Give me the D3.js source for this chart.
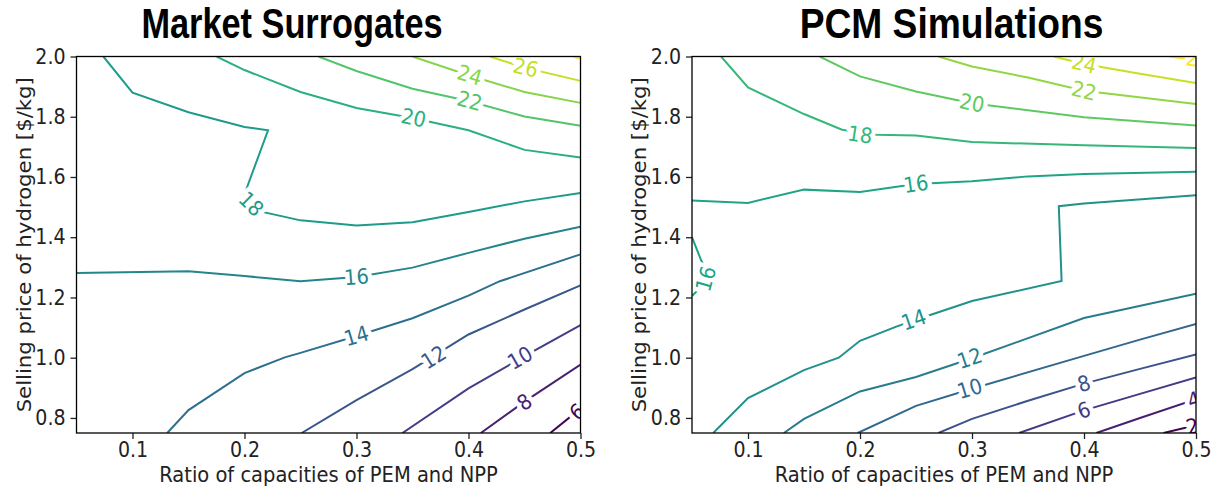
<!DOCTYPE html>
<html>
<head>
<meta charset="utf-8">
<script src="https://cdn.jsdelivr.net/npm/d3@7"></script>
<style>
  body { margin: 0; background: #fff; }
  svg { display: block; }
  .tick text { font-family: "DejaVu Sans", sans-serif; font-size: 19px; fill: #222; }
  .tick line { stroke: #222; stroke-width: 1.3; }
  .axis-label { font-family: "DejaVu Sans", sans-serif; font-size: 19.5px; fill: #222; }
  .title { font-family: "Liberation Sans", Arial, sans-serif; font-weight: bold; fill: #000; }
  .clabel { font-family: "DejaVu Sans", sans-serif; font-size: 19.5px; stroke: #fff; stroke-width: 9px; paint-order: stroke; stroke-linejoin: round; }
</style>
</head>
<body>
<div id="chart"></div>
<script>
/* global d3 */

// shared axes
const xDomain = [0.05, 0.5];
const yDomain = [0.75, 2.0];
const xTicks = [0.1, 0.2, 0.3, 0.4, 0.5];
const yTicks = [0.8, 1.0, 1.2, 1.4, 1.6, 1.8, 2.0];

// Market Surrogates: contour levels and traced polylines [level, [[x, y], ...]]
const surrogateLevels = [6, 8, 10, 12, 14, 16, 18, 20, 22, 24, 26, 28];
const surrogateLines = [
  [6,  [[0.473, 0.75], [0.50, 0.831]]],
  [8,  [[0.411, 0.75], [0.45, 0.854], [0.50, 0.977]]],
  [10, [[0.341, 0.75], [0.40, 0.898], [0.45, 1.005], [0.50, 1.108]]],
  [12, [[0.251, 0.75], [0.30, 0.859], [0.35, 0.962], [0.40, 1.077], [0.45, 1.16], [0.50, 1.240]]],
  [14, [[0.131, 0.75], [0.15, 0.826], [0.20, 0.949], [0.236, 1.001], [0.25, 1.016], [0.30, 1.072],
        [0.35, 1.131], [0.40, 1.206], [0.428, 1.254], [0.50, 1.343]]],
  [16, [[0.05, 1.281], [0.15, 1.287], [0.20, 1.271], [0.25, 1.254], [0.30, 1.268], [0.35, 1.299],
        [0.40, 1.348], [0.45, 1.395], [0.50, 1.435]]],
  [18, [[0.074, 2.0], [0.10, 1.880], [0.15, 1.815], [0.20, 1.766], [0.221, 1.755], [0.20, 1.543],
        [0.216, 1.484], [0.25, 1.456], [0.30, 1.439], [0.35, 1.450], [0.40, 1.484], [0.45, 1.519], [0.50, 1.547]]],
  [20, [[0.175, 2.0], [0.20, 1.955], [0.25, 1.882], [0.30, 1.829], [0.35, 1.796], [0.40, 1.755],
        [0.45, 1.690], [0.50, 1.665]]],
  [22, [[0.266, 2.0], [0.30, 1.952], [0.35, 1.893], [0.40, 1.852], [0.45, 1.801], [0.50, 1.770]]],
  [24, [[0.350, 2.0], [0.40, 1.938], [0.45, 1.882], [0.50, 1.846]]],
  [26, [[0.419, 2.0], [0.45, 1.963], [0.50, 1.919]]],
  [28, [[0.494, 2.0], [0.50, 1.992]]]
];
// [level, x, y, optional angle]
const surrogateLabels = [
  [6, 0.497, 0.82], [8, 0.45, 0.852], [10, 0.446, 0.999], [12, 0.369, 1.001], [14, 0.30, 1.072],
  [16, 0.30, 1.268], [18, 0.206, 1.51], [20, 0.351, 1.796], [22, 0.401, 1.852], [24, 0.401, 1.938],
  [26, 0.451, 1.963]
];

// PCM Simulations
const pcmLevels = [2, 4, 6, 8, 10, 12, 14, 16, 18, 20, 22, 24, 26];
const pcmLines = [
  [2,  [[0.471, 0.75], [0.50, 0.776]]],
  [4,  [[0.411, 0.75], [0.45, 0.80], [0.50, 0.862]]],
  [6,  [[0.342, 0.75], [0.40, 0.825], [0.45, 0.88], [0.50, 0.934]]],
  [8,  [[0.270, 0.75], [0.30, 0.797], [0.35, 0.857], [0.40, 0.914], [0.45, 0.963], [0.50, 1.011]]],
  [10, [[0.198, 0.75], [0.25, 0.84], [0.30, 0.897], [0.40, 1.006], [0.45, 1.06], [0.50, 1.112]]],
  [12, [[0.132, 0.75], [0.15, 0.797], [0.20, 0.888], [0.25, 0.936], [0.30, 0.998], [0.40, 1.132], [0.50, 1.212]]],
  [14, [[0.069, 0.75], [0.10, 0.866], [0.15, 0.959], [0.181, 1.0], [0.20, 1.056], [0.233, 1.104],
        [0.25, 1.126], [0.30, 1.188], [0.38, 1.255], [0.3775, 1.503], [0.40, 1.512], [0.50, 1.539]]],
  [16, [[0.05, 1.522], [0.10, 1.514], [0.15, 1.558], [0.20, 1.550], [0.25, 1.577], [0.30, 1.586],
        [0.35, 1.602], [0.40, 1.610], [0.50, 1.617]]],
  [16, [[0.05, 1.40], [0.058, 1.325], [0.066, 1.265], [0.05, 1.205]]],
  [18, [[0.076, 2.0], [0.10, 1.897], [0.15, 1.809], [0.184, 1.757], [0.215, 1.740], [0.25, 1.738],
        [0.30, 1.716], [0.40, 1.705], [0.50, 1.696]]],
  [20, [[0.164, 2.0], [0.20, 1.934], [0.25, 1.884], [0.30, 1.845], [0.40, 1.798], [0.50, 1.771]]],
  [22, [[0.270, 2.0], [0.30, 1.967], [0.35, 1.930], [0.40, 1.886], [0.50, 1.842]]],
  [24, [[0.373, 2.0], [0.40, 1.975], [0.45, 1.943], [0.50, 1.912]]],
  [26, [[0.476, 2.0], [0.50, 1.988]]]
];
const pcmLabels = [
  [2, 0.497, 0.772], [4, 0.498, 0.86], [6, 0.40, 0.825], [8, 0.40, 0.914], [10, 0.298, 0.897],
  [12, 0.298, 0.998], [14, 0.248, 1.126], [16, 0.25, 1.577], [16, 0.0625, 1.262, -74], [18, 0.20, 1.74],
  [20, 0.30, 1.845], [22, 0.40, 1.886], [24, 0.40, 1.975], [26, 0.502, 1.99]
];

const size = { width: 1211, height: 488 };
const plot = { top: 56.5, width: 504, height: 376.5 };
const stretch = 1.09;   // the reference text is a little taller than wide

const svg = d3.select("#chart").append("svg")
  .attr("width", size.width)
  .attr("height", size.height);

// angle (deg) of the nearest segment of a level's line, kept readable
function labelAngle(lines, level, px, py, xScale, yScale) {
  let best = 0, bestD = Infinity;
  lines.filter(l => l[0] === level).forEach(([, pts]) => {
    for (let i = 1; i < pts.length; i++) {
      const ax = xScale(pts[i - 1][0]), ay = yScale(pts[i - 1][1]);
      const bx = xScale(pts[i][0]), by = yScale(pts[i][1]);
      const dx = bx - ax, dy = by - ay;
      let t = ((px - ax) * dx + (py - ay) * dy) / (dx * dx + dy * dy);
      t = Math.max(0, Math.min(1, t));
      const d = Math.hypot(ax + t * dx - px, ay + t * dy - py);
      if (d < bestD) { bestD = d; best = Math.atan2(dy, dx) * 180 / Math.PI; }
    }
  });
  if (best > 90) best -= 180;
  if (best <= -90) best += 180;
  return best;
}

function drawPanel(id, left, title, titleFont, levels, lines, labels) {
  const xScale = d3.scaleLinear().domain(xDomain).range([0, plot.width]);
  const yScale = d3.scaleLinear().domain(yDomain).range([plot.height, 0]);
  const color = d3.scaleSequential(d3.interpolateViridis).domain(d3.extent(levels));

  const g = svg.append("g").attr("transform", "translate(" + left + "," + plot.top + ")");

  g.append("text")
    .attr("class", "title")
    .attr("text-anchor", "middle")
    .style("font-size", titleFont.size + "px")
    .attr("transform", "translate(" + titleFont.x + "," + (-18.5) + ") scale(1," + titleFont.sy + ")")
    .text(title);

  g.append("defs").append("clipPath")
    .attr("id", "clip-" + id)
    .append("rect")
    .attr("width", plot.width)
    .attr("height", plot.height);

  const area = g.append("g").attr("clip-path", "url(#clip-" + id + ")");

  const line = d3.line()
    .x(d => xScale(d[0]))
    .y(d => yScale(d[1]));

  area.selectAll("path.contour")
    .data(lines)
    .join("path")
    .attr("class", "contour")
    .attr("d", d => line(d[1]))
    .attr("fill", "none")
    .attr("stroke", d => color(d[0]))
    .attr("stroke-width", 2);

  area.selectAll("text.clabel")
    .data(labels)
    .join("text")
    .attr("class", "clabel")
    .attr("text-anchor", "middle")
    .attr("dominant-baseline", "central")
    .attr("fill", d => color(d[0]))
    .attr("transform", d => {
      const px = xScale(d[1]), py = yScale(d[2]);
      const a = d.length > 3 ? d[3] : labelAngle(lines, d[0], px, py, xScale, yScale);
      return "translate(" + px + "," + py + ") rotate(" + a + ") scale(1," + stretch + ")";
    })
    .text(d => d[0]);

  const xAxis = d3.axisBottom(xScale)
    .tickValues(xTicks)
    .tickSize(6)
    .tickPadding(5)
    .tickFormat(d3.format(".1f"));

  const yAxis = d3.axisLeft(yScale)
    .tickValues(yTicks)
    .tickSize(6)
    .tickPadding(5)
    .tickFormat(d3.format(".1f"));

  g.append("g")
    .attr("transform", "translate(0," + plot.height + ")")
    .call(xAxis)
    .call(s => s.select(".domain").remove())
    .call(s => s.selectAll(".tick text")
      .attr("y", 0).attr("dy", null)
      .attr("dominant-baseline", "central")
      .attr("transform", "translate(0,17.5) scale(1," + stretch + ")"));

  g.append("g")
    .call(yAxis)
    .call(s => s.select(".domain").remove())
    .call(s => s.selectAll(".tick text")
      .attr("dy", null)
      .attr("dominant-baseline", "central")
      .attr("transform", "scale(1," + stretch + ")"));

  g.append("rect")
    .attr("width", plot.width)
    .attr("height", plot.height)
    .attr("fill", "none")
    .attr("stroke", "#000")
    .attr("stroke-width", 1.3);

  g.append("text")
    .attr("class", "axis-label")
    .attr("text-anchor", "middle")
    .attr("transform", "translate(" + (plot.width / 2) + "," + (plot.height + 48.5) + ") scale(1,1.06)")
    .text("Ratio of capacities of PEM and NPP");

  g.append("text")
    .attr("class", "axis-label")
    .attr("text-anchor", "middle")
    .attr("transform", "translate(-46," + (plot.height / 2) + ") scale(1," + stretch + ") rotate(-90)")
    .text("Selling price of hydrogen [$/kg]");
}

drawPanel("ms", 76.5, "Market Surrogates", { x: 215.5, size: 34.3, sy: 1.25 },
  surrogateLevels, surrogateLines, surrogateLabels);
drawPanel("pcm", 692, "PCM Simulations", { x: 259.5, size: 37.2, sy: 1.16 },
  pcmLevels, pcmLines, pcmLabels);
</script>
</body>
</html>
